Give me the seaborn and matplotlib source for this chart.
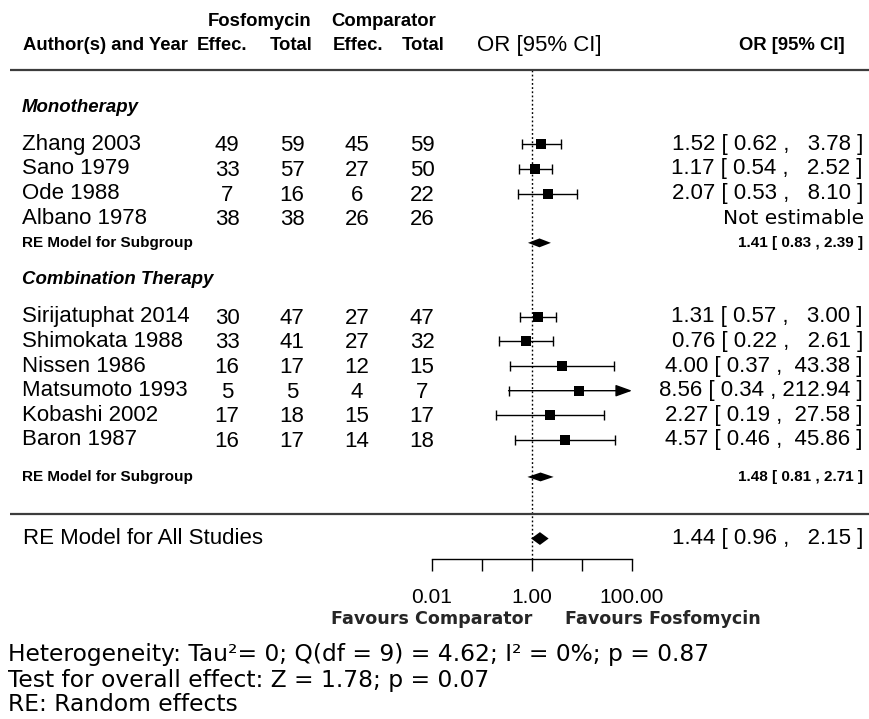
import numpy as np
import pandas as pd
import matplotlib
matplotlib.use("Agg")
import matplotlib.pyplot as plt
from matplotlib import transforms
from matplotlib.ticker import NullLocator
import seaborn as sns

# ---------------- data ----------------
studies = ["Zhang 2003", "Sano 1979", "Ode 1988", "Albano 1978",
           "Sirijatuphat 2014", "Shimokata 1988", "Nissen 1986",
           "Matsumoto 1993", "Kobashi 2002", "Baron 1987"]
group = ["Monotherapy"] * 4 + ["Combination Therapy"] * 6
fos_effec = [49, 33, 7, 38, 30, 33, 16, 5, 17, 16]
fos_total = [59, 57, 16, 38, 47, 41, 17, 5, 18, 17]
com_effec = [45, 27, 6, 26, 27, 27, 12, 4, 15, 14]
com_total = [59, 50, 22, 26, 47, 32, 15, 7, 17, 18]
or_est = [1.52, 1.17, 2.07, np.nan, 1.31, 0.76, 4.00, 8.56, 2.27, 4.57]
ci_low = [0.62, 0.54, 0.53, np.nan, 0.57, 0.22, 0.37, 0.34, 0.19, 0.46]
ci_high = [3.78, 2.52, 8.10, np.nan, 3.00, 2.61, 43.38, 212.94, 27.58, 45.86]

subgroups = ["Monotherapy", "Combination Therapy"]
sub_est = [1.41, 1.48]
sub_low = [0.83, 0.81]
sub_high = [2.39, 2.71]

overall_est, overall_low, overall_high = 1.44, 0.96, 2.15

axis_ticks = [0.01, 0.1, 1, 10, 100]
axis_labels = ["0.01", "", "1.00", "", "100.00"]

footer = ["Heterogeneity: Tau\u00b2= 0; Q(df = 9) = 4.62; I\u00b2 = 0%; p = 0.87",
          "Test for overall effect: Z = 1.78; p = 0.07",
          "RE: Random effects"]

# ---------------- layout ----------------
W, H = 870, 719
ROW_PX = 24.64
R0_PX = 144.3
study_rows = [0, 1, 2, 3, 7, 8, 9, 10, 11, 12]
group_rows = [-1.5, 5.5]
sub_rows = [4, 13.5]
sep_row, overall_row, axis_row = 15, 16, 16.85
hdr_line_row = -3
XMAX = 100

sns.set_style("white")
plt.rcParams["font.family"] = ["Liberation Sans", "DejaVu Sans"]

fig = plt.figure(figsize=(W / 100, H / 100), dpi=100)
ax = fig.add_axes([0, 0, 1, 1])
ax.set_xscale("log")
xlim = (10 ** ((0 - 532) / 50), 10 ** ((W - 532) / 50))
ylim = ((H - R0_PX) / ROW_PX, -R0_PX / ROW_PX)

trans = transforms.blended_transform_factory(ax.transAxes, ax.transData)


def put(px, row, s, **kw):
    kw.setdefault("va", "center")
    kw.setdefault("color", "black")
    ax.text(px / W, row, s, transform=trans, **kw)


df = pd.DataFrame({"study": studies, "row": study_rows, "or": or_est,
                   "lo": ci_low, "hi": ci_high})
valid = df.dropna()

# CI lines
for _, d in valid.iterrows():
    if d.hi > XMAX:
        ax.annotate("", xy=(XMAX, d.row), xytext=(d.lo, d.row),
                    arrowprops=dict(arrowstyle="-|>,head_length=1.0,head_width=0.36",
                                    mutation_scale=10, color="black", lw=1,
                                    shrinkA=0, shrinkB=0))
        caps = [d.lo]
    else:
        ax.plot([d.lo, d.hi], [d.row, d.row], color="black", lw=1)
        caps = [d.lo, d.hi]
    ax.plot(caps, [d.row] * len(caps), ls="none", marker="|", ms=6.5,
            mew=1, color="black")

# squares
sns.scatterplot(data=valid, x="or", y="row", marker="s", s=52, color="black",
                edgecolor="none", linewidth=0, ax=ax, legend=False, zorder=5)

# diamonds
def diamond(est, lo, hi, row, h):
    ax.fill([lo, est, hi, est], [row, row - h, row, row + h], color="black", lw=0)

for e, l, h, r in zip(sub_est, sub_low, sub_high, sub_rows):
    diamond(e, l, h, r, 0.18)
diamond(overall_est, overall_low, overall_high, overall_row, 0.26)

# reference line
ax.plot([1, 1], [hdr_line_row, axis_row], color="black", lw=1, ls=(0, (1.3, 1.7)))

# horizontal rules
for r in [hdr_line_row, sep_row]:
    ax.plot([10 / W, 1], [r, r], transform=trans, color="#3c3c3c", lw=1.6,
            solid_capstyle="butt")

ax.set_xlim(xlim)
ax.set_ylim(ylim)
ax.axis("off")

# headers
hb = dict(fontsize=13.3, fontweight="bold")
put(23, -4, "Author(s) and Year", ha="left", **hb)
put(260, -5, "Fosfomycin", ha="center", **hb)
put(384, -5, "Comparator", ha="center", **hb)
for x, t in zip([222, 291, 358, 423], ["Effec.", "Total", "Effec.", "Total"]):
    put(x, -4, t, ha="center", **hb)
put(539, -4, "OR [95% CI]", ha="center", fontsize=16)
put(845, -4, "OR [95% CI]", ha="right", **hb)

# group labels
for g, r in zip(subgroups, group_rows):
    put(22, r, g, ha="left", fontsize=13.4, fontweight="bold", fontstyle="italic")

# study rows
for i, d in df.iterrows():
    r = d.row
    put(22, r, d.study, ha="left", fontsize=16)
    for x, v in zip([227, 292, 357, 422],
                    [fos_effec[i], fos_total[i], com_effec[i], com_total[i]]):
        put(x, r + 0.06, str(v), ha="center", fontsize=16)
    if np.isnan(d["or"]):
        put(864, r, "Not estimable", ha="right", fontsize=14.5,
            family="DejaVu Sans")
    else:
        put(863, r, f"{d['or']:.2f} [ {d.lo:.2f} , {d.hi:6.2f} ]",
            ha="right", fontsize=16)

# subgroup rows
for e, l, h, r in zip(sub_est, sub_low, sub_high, sub_rows):
    put(22, r, "RE Model for Subgroup", ha="left", fontsize=11, fontweight="bold")
    put(863, r, f"{e:.2f} [ {l:.2f} , {h:.2f} ]", ha="right", fontsize=11,
        fontweight="bold")

put(23, overall_row, "RE Model for All Studies", ha="left", fontsize=16)
put(863, overall_row,
    f"{overall_est:.2f} [ {overall_low:.2f} , {overall_high:6.2f} ]",
    ha="right", fontsize=16)

# x axis
axis_y = R0_PX + axis_row * ROW_PX
ax2 = fig.add_axes([0, (H - axis_y) / H, 1, 0.01])
ax2.set_xscale("log")
ax2.set_xlim(xlim)
ax2.patch.set_alpha(0)
for s in ["left", "right", "top"]:
    ax2.spines[s].set_visible(False)
ax2.spines["bottom"].set_bounds(axis_ticks[0], axis_ticks[-1])
ax2.spines["bottom"].set_linewidth(1)
ax2.spines["bottom"].set_color("black")
ax2.set_xticks(axis_ticks)
ax2.set_xticklabels(axis_labels)
ax2.xaxis.set_minor_locator(NullLocator())
ax2.set_yticks([])
ax2.tick_params(axis="x", bottom=True, direction="out", length=8.9, width=1,
                pad=11.5, labelsize=15, color="black", labelcolor="black")

# favours
fav_y = 1 - 624 / H
fig.text(532 / W, fav_y, "Favours Comparator", ha="right", va="baseline",
         fontsize=12.6, fontweight="bold", family="DejaVu Sans")
fig.text(565 / W, fav_y, "Favours Fosfomycin", ha="left", va="baseline",
         fontsize=12.6, fontweight="bold", family="DejaVu Sans")

# footer
for t, yb in zip(footer, [661, 687, 711]):
    fig.text(8 / W, 1 - yb / H, t, ha="left", va="baseline", fontsize=16.8,
             family="DejaVu Sans", color="black")

fig.savefig("out.png", dpi=100, facecolor="white")
